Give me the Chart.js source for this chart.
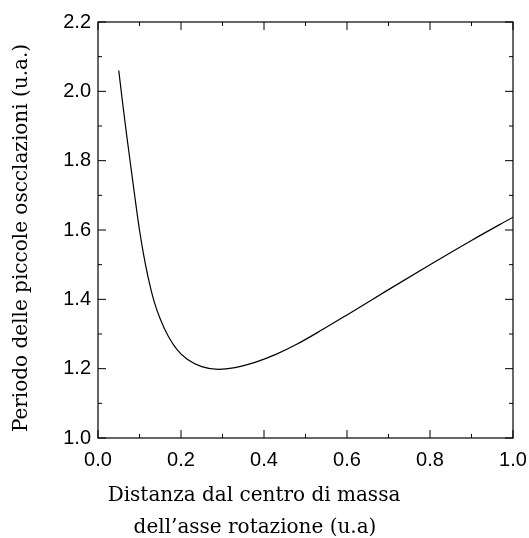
<!DOCTYPE html>
<html>
<head>
<meta charset="utf-8">
<script src="https://cdn.jsdelivr.net/npm/chart.js@4.4.0/dist/chart.umd.min.js"></script>
<style>
  body { margin: 0; background: #fff; }
  canvas { display: block; }
</style>
</head>
<body>
<canvas id="chart" width="529" height="538"></canvas>
<script>
// distance from centre of mass
const distValues = [0.050, 0.060, 0.070, 0.080, 0.090, 0.100, 0.110, 0.120, 0.135, 0.150, 0.170,
  0.190, 0.215, 0.250, 0.290, 0.330, 0.380, 0.430, 0.480, 0.540, 0.600, 0.700, 0.800, 0.900, 1.000];
// period of small oscillations
const periodValues = [2.06, 1.96, 1.865, 1.775, 1.685, 1.600, 1.528, 1.468, 1.395, 1.343, 1.292,
  1.256, 1.227, 1.206, 1.198, 1.203, 1.219, 1.242, 1.271, 1.312, 1.355, 1.428, 1.500, 1.570, 1.637];

const xTicks = [0.0, 0.2, 0.4, 0.6, 0.8, 1.0];
const yTicks = [1.0, 1.2, 1.4, 1.6, 1.8, 2.0, 2.2];
const xTitle = ["Distanza dal centro di massa", "dell\u2019asse rotazione (u.a)"];
const yTitle = "Periodo delle piccole oscclazioni (u.a.)";

const tickFont = { family: "'Liberation Sans', Arial, sans-serif", size: 20 };
const titleFont = "20px 'DejaVu Serif', 'Liberation Serif', serif";

// frame with inward ticks on all four sides, plus the axis titles
const frameTicks = {
  id: "frameTicks",
  afterDraw(chart) {
    const { ctx, chartArea: a, scales } = chart;
    const xs = scales.x, ys = scales.y;
    ctx.save();
    ctx.strokeStyle = "#000";
    ctx.lineWidth = 1.2;
    ctx.strokeRect(a.left, a.top, a.right - a.left, a.bottom - a.top);
    ctx.lineWidth = 1;
    ctx.beginPath();
    for (let i = 0; i <= 10; i++) {
      const len = i % 2 === 0 ? 8 : 4;
      const px = xs.getPixelForValue(i / 10);
      ctx.moveTo(px, a.bottom); ctx.lineTo(px, a.bottom - len);
      ctx.moveTo(px, a.top); ctx.lineTo(px, a.top + len);
    }
    for (let i = 0; i <= 12; i++) {
      const len = i % 2 === 0 ? 8 : 4;
      const py = ys.getPixelForValue(1 + i / 10);
      ctx.moveTo(a.left, py); ctx.lineTo(a.left + len, py);
      ctx.moveTo(a.right, py); ctx.lineTo(a.right - len, py);
    }
    ctx.stroke();

    ctx.fillStyle = "#000";
    ctx.font = titleFont;
    ctx.textAlign = "center";
    ctx.textBaseline = "alphabetic";
    ctx.fillText(xTitle[0], 254, 501);
    ctx.fillText(xTitle[1], 255, 533);
    ctx.translate(27, 238);
    ctx.rotate(-Math.PI / 2);
    ctx.fillText(yTitle, 0, 0);
    ctx.restore();
  }
};

const points = distValues.map((d, i) => ({ x: d, y: periodValues[i] }));

new Chart(document.getElementById("chart"), {
  type: "line",
  data: {
    datasets: [{
      data: points,
      borderColor: "#000",
      borderWidth: 1.2,
      pointRadius: 0,
      cubicInterpolationMode: "monotone",
      fill: false
    }]
  },
  options: {
    responsive: false,
    animation: false,
    layout: { padding: { top: 22, right: 16, left: 0, bottom: 0 } },
    plugins: { legend: { display: false }, tooltip: { enabled: false } },
    scales: {
      x: {
        type: "linear",
        min: 0, max: 1,
        afterBuildTicks: s => { s.ticks = xTicks.map(v => ({ value: v })); },
        afterFit: s => { s.height = 100; s.paddingRight = 0; s.paddingLeft = 0; },
        grid: { display: false, drawTicks: false },
        border: { display: false },
        ticks: { color: "#000", font: tickFont, padding: 10, maxRotation: 0,
          callback: v => v.toFixed(1) }
      },
      y: {
        type: "linear",
        min: 1, max: 2.2,
        afterBuildTicks: s => { s.ticks = yTicks.map(v => ({ value: v })); },
        afterFit: s => { s.width = 98; s.paddingTop = 0; s.paddingBottom = 0; },
        grid: { display: false, drawTicks: false },
        border: { display: false },
        ticks: { color: "#000", font: tickFont, padding: 7,
          callback: v => v.toFixed(1) }
      }
    }
  },
  plugins: [frameTicks]
});
</script>
</body>
</html>
